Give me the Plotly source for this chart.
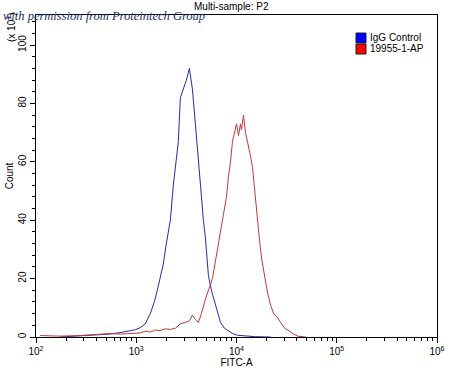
import plotly.graph_objects as go

# Blue: IgG Control (FITC-A value, count in units of 10)
igg_x = [174, 275, 347, 437, 550, 692, 871, 977, 1096, 1230, 1380, 1514, 1622, 1738, 1862,
         1995, 2188, 2344, 2512, 2630, 2754, 2951, 3162, 3388, 3631, 3890, 4169, 4365, 4677,
         4898, 5248, 5623, 6026, 6457, 6918, 7586, 8318, 9120, 10233, 12303, 15488, 21878]
igg_y = [0, 0.3, 0.5, 0.8, 1.0, 1.5, 2.0, 2.5, 3.2, 4.5, 8, 12, 16, 20, 25,
         32, 40, 52, 60, 67, 82, 85, 88, 92, 85, 73, 60, 50, 40,
         34, 21, 16, 12, 8, 5, 3, 2, 1.2, 0.6, 0.3, 0.1, 0]

# Red: 19955-1-AP
ap_x = [110, 174, 275, 437, 550, 692, 871, 1096, 1230, 1380, 1549, 1738, 1950, 2188, 2455,
        2754, 3090, 3388, 3631, 3890, 4169, 4467, 4898, 5248, 5754, 6166, 6607, 7079, 7586,
        7943, 8318, 8710, 9120, 9550, 10000, 10471, 10965, 11220, 11749, 12303, 12882, 13804,
        14454, 15488, 16218, 16982, 17783, 19055, 20417, 21878, 23442, 25119, 27542, 30200,
        33113, 36308, 40738, 48978]
ap_y = [0.5, 0.3, 0.5, 1.0, 1.2, 1.0, 1.3, 1.4, 2.0, 1.7, 2.4, 2.2, 2.8, 2.6, 3.0,
        4.5, 5.0, 5.5, 7.5, 6.0, 5.0, 8, 13, 16, 20, 26, 32, 38, 44,
        48, 55, 60, 67, 70, 73, 69, 73, 71, 76, 70, 67, 62,
        58, 46, 40, 33, 27, 21, 15, 11, 8, 7, 5, 3,
        2.2, 1.2, 0.3, 0]

series_names = ["IgG Control", "19955-1-AP"]
legend_colors = ["#0000ff", "#ff0000"]
line_colors = ["#2a2aa6", "#c23a3a"]

x_exponents = [2, 3, 4, 5, 6]
y_ticks = [0, 20, 40, 60, 80, 100]

FONT = "Liberation Sans, Arial, sans-serif"
W, H = 450, 370
L, R, T, B = 36, 13, 15, 33
PW, PH = W - L - R, H - T - B


def px_x(px):
    return (px - L) / PW


def px_y(py):
    return (H - B - py) / PH


fig = go.Figure()
fig.add_trace(go.Scatter(x=igg_x, y=igg_y, mode="lines", name=series_names[0],
                         line=dict(color=line_colors[0], width=1), hoverinfo="skip"))
fig.add_trace(go.Scatter(x=ap_x, y=ap_y, mode="lines", name=series_names[1],
                         line=dict(color=line_colors[1], width=1), hoverinfo="skip"))

minor_vals = [m * 10 ** e for e in x_exponents[:-1] for m in range(2, 10)]

fig.update_layout(
    width=W, height=H,
    margin=dict(l=L, r=R, t=T, b=B),
    paper_bgcolor="white", plot_bgcolor="white",
    font=dict(family=FONT, size=10, color="black"),
    showlegend=False,
)
fig.update_xaxes(
    type="log", range=[2, 6], automargin=False,
    tickmode="array", tickvals=[10 ** e for e in x_exponents],
    ticktext=["10<sup>%d</sup>" % e for e in x_exponents],
    ticks="outside", ticklen=5, tickwidth=1, tickcolor="black",
    minor=dict(tickvals=minor_vals, ticks="outside", ticklen=3, tickcolor="black", showgrid=False),
    showline=True, linecolor="black", linewidth=1, mirror=True,
    showgrid=False, zeroline=False,
    title=dict(text="FITC-A", font=dict(size=10), standoff=2),
    tickfont=dict(size=10),
)
fig.update_yaxes(
    range=[0, 110.3], automargin=False,
    tickmode="array", tickvals=y_ticks, ticktext=[str(v) for v in y_ticks],
    tickangle=-90,
    ticks="outside", ticklen=5, tickwidth=1, tickcolor="black",
    minor=dict(dtick=4, ticks="outside", ticklen=3, tickcolor="black", showgrid=False),
    showline=True, linecolor="black", linewidth=1, mirror=True,
    showgrid=False, zeroline=False,
    title=dict(text="Count", font=dict(size=10), standoff=1),
    tickfont=dict(size=10),
)

# title
fig.add_annotation(text="Multi-sample: P2", xref="paper", yref="paper",
                   x=px_x(231), y=px_y(6), xanchor="center", yanchor="middle",
                   showarrow=False, font=dict(size=10, family=FONT))
# watermark
fig.add_annotation(text="<i>with permission from Proteintech Group</i>", xref="paper", yref="paper",
                   x=px_x(1), y=px_y(16), xanchor="left", yanchor="middle",
                   showarrow=False, font=dict(size=12.5, family="Liberation Serif", color="#22306a"))
# axis multiplier
fig.add_annotation(text="(x 10<sup>1</sup>)", xref="paper", yref="paper",
                   x=px_x(3), y=px_y(28), xanchor="left", yanchor="middle",
                   textangle=-90, showarrow=False, font=dict(size=10, family=FONT))

# manual legend
for i, (nm, col) in enumerate(zip(series_names, legend_colors)):
    cy = 38 + i * 11
    fig.add_shape(type="rect", xref="paper", yref="paper",
                  x0=px_x(356), x1=px_x(366), y0=px_y(cy + 5), y1=px_y(cy - 5),
                  fillcolor=col, line=dict(color="#202020", width=1))
    fig.add_annotation(text=nm, xref="paper", yref="paper",
                       x=px_x(368), y=px_y(cy), xanchor="left", yanchor="middle",
                       showarrow=False, font=dict(size=10, family=FONT))

fig.write_html("out.html", config={"displayModeBar": False},
               post_script="document.body.style.margin='0';")
